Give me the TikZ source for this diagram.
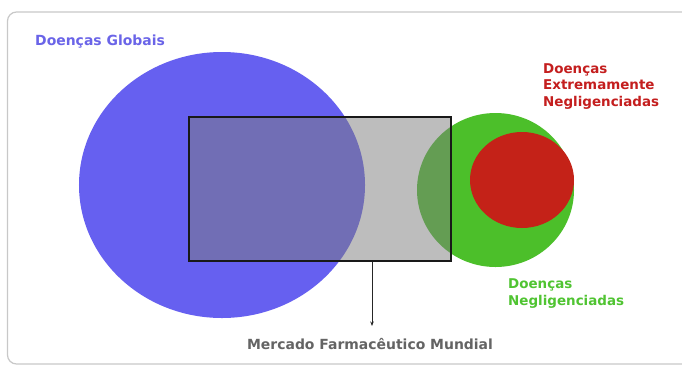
\documentclass[tikz,border=0pt]{standalone}
\usepackage{fontspec}
\setmainfont{DejaVu Sans}
\usetikzlibrary{shapes.geometric,arrows.meta}
\definecolor{frameC}{RGB}{200,200,200}
\definecolor{blueC}{RGB}{102,96,240}
\definecolor{greenC}{RGB}{76,191,42}
\definecolor{redC}{RGB}{196,34,24}
\definecolor{grayC}{RGB}{124,124,124}
\definecolor{blueT}{RGB}{106,100,232}
\definecolor{redT}{RGB}{196,30,30}
\definecolor{greenT}{RGB}{80,196,50}
\definecolor{grayT}{RGB}{100,100,100}
\tikzset{
  blob/.style={ellipse, inner sep=0pt, draw=none},
  lbl/.style={font=\bfseries\fontsize{14}{16.5}\selectfont, align=left, inner sep=0pt},
  lbls/.style={font=\bfseries\fontsize{13.5}{16.5}\selectfont, align=left, inner sep=0pt},
}
\begin{document}
\begin{tikzpicture}[x=1bp,y=-1bp]
\useasboundingbox (0,0) rectangle (682,364);
\fill[white] (0,0) rectangle (682,364);
\draw[frameC, line width=1.2bp, rounded corners=9bp] (7.5,12) rectangle (692,364);
% shapes
\node[blob, fill=blueC, minimum width=286bp, minimum height=266bp] (global) at (222,185) {};
\node[blob, fill=greenC, minimum width=157bp, minimum height=154bp] (negl) at (495.5,190) {};
\node[blob, fill=redC, minimum width=104bp, minimum height=96bp] (extneg) at (522,180) {};
\node[draw=black!90, line width=1.5bp, fill=grayC, fill opacity=0.5, minimum width=262bp, minimum height=144bp, inner sep=0pt] (market) at (320,189) {};
% labels
\node[lbl, text=blueT, anchor=west] (tglobal) at (35,42) {Doenças Globais};
\node[lbls, text=redT, anchor=west] (textneg) at (543,86.5) {Doenças\\Extremamente\\Negligenciadas};
\node[lbls, text=greenT, anchor=west] (tnegl) at (508,293.5) {Doenças\\Negligenciadas};
\node[lbl, text=grayT, anchor=center] (tmarket) at (370,344) {Mercado Farmacêutico Mundial};
\coordinate (tip) at (372,326);
\draw[black!85, line width=0.9bp, -{Stealth[length=4.5bp,width=3.5bp]}] (market.south -| tip) -- (tip);
\end{tikzpicture}
\end{document}
